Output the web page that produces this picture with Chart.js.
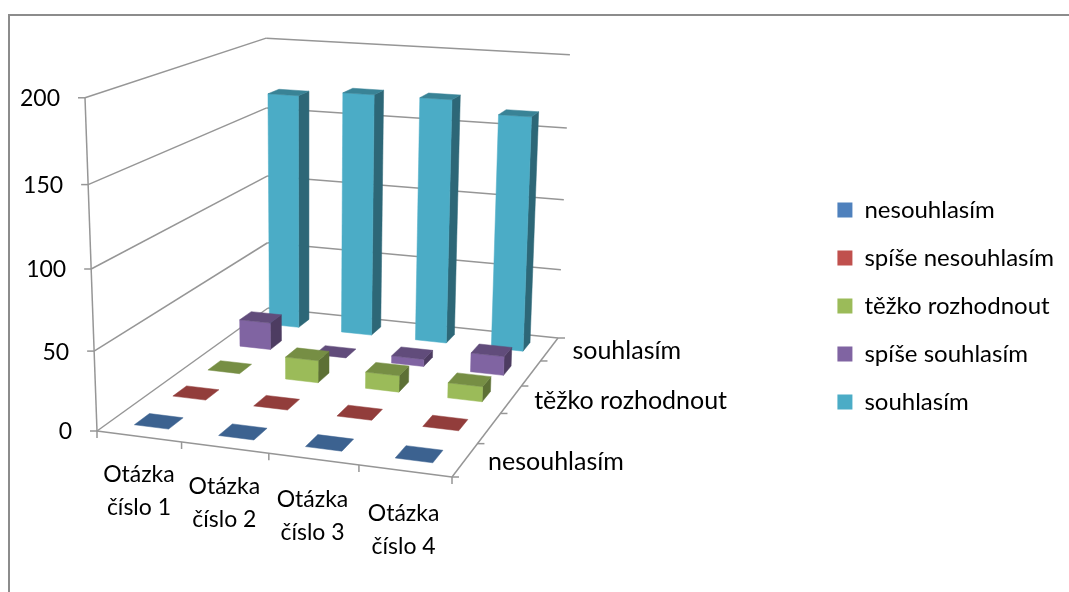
<!DOCTYPE html>
<html lang="cs">
<head>
  <meta charset="UTF-8">
  <title>Otázky</title>
  <script src="https://cdn.jsdelivr.net/npm/chart.js"></script>
  <style>
    html, body { margin: 0; padding: 0; background: #fff; overflow: hidden; }
    #wrap { position: relative; width: 1069px; height: 592px; overflow: hidden; }
    #frame { position: absolute; left: 8px; top: 14px; width: 1200px; height: 800px; border: 2px solid #8c8c8c; }
    canvas { position: absolute; left: 0; top: 0; }
  </style>
</head>
<body>
<div id="wrap">
  <div id="frame"></div>
  <canvas id="chart" width="1069" height="592"></canvas>
</div>

<script>
  const categories = [['Otázka', 'číslo 1'], ['Otázka', 'číslo 2'], ['Otázka', 'číslo 3'], ['Otázka', 'číslo 4']];
  const seriesNames = ['nesouhlasím', 'spíše nesouhlasím', 'těžko rozhodnout', 'spíše souhlasím', 'souhlasím'];
  const nesouhlasim = [0, 0, 0, 0];
  const spiseNesouhlasim = [0, 0, 0, 0];
  const tezkoRozhodnout = [0, 15, 11, 10];
  const spiseSouhlasim = [19, 0, 5, 13];
  const souhlasim = [167, 171, 171, 163];
  const seriesValues = [nesouhlasim, spiseNesouhlasim, tezkoRozhodnout, spiseSouhlasim, souhlasim];
  const seriesColors = ['#4f81bd', '#c0504d', '#9bbb59', '#8064a2', '#4bacc6'];

  // perspective box of the plot: floor corners, one raised corner, vertical vanishing point
  const FLOOR = [[97, 431], [452, 477], [558, 338], [268, 308]];
  const RAISED_CORNER = [85, 97];
  const VANISH = [308, 6290];
  const BAR_WIDTH = 0.41;
  const BAR_DEPTH = 0.38;
  const FONT = 'Lato, sans-serif';
  const LEGEND_FONT_SIZE = 24;
  const DEPTH_FONT_SIZE = 25;
  const TICK_FONT_SIZE = 23;

  function squareToQuad(q) {
    const dx1 = q[1][0] - q[2][0], dx2 = q[3][0] - q[2][0], sx = q[0][0] - q[1][0] + q[2][0] - q[3][0];
    const dy1 = q[1][1] - q[2][1], dy2 = q[3][1] - q[2][1], sy = q[0][1] - q[1][1] + q[2][1] - q[3][1];
    const den = dx1 * dy2 - dx2 * dy1;
    const g = (sx * dy2 - dx2 * sy) / den;
    const h = (dx1 * sy - sx * dy1) / den;
    return {
      a: q[1][0] - q[0][0] + g * q[1][0], b: q[3][0] - q[0][0] + h * q[3][0], c: q[0][0],
      d: q[1][1] - q[0][1] + g * q[1][1], e: q[3][1] - q[0][1] + h * q[3][1], f: q[0][1],
      g, h
    };
  }

  const H = squareToQuad(FLOOR);
  const lift = (RAISED_CORNER[0] - FLOOR[0][0]) / (VANISH[0] - RAISED_CORNER[0]);

  // u: along the questions, v: along the answers, z: height, all 0..1
  function project(u, v, z) {
    const w = H.g * u + H.h * v + 1 + lift * z;
    return [
      (H.a * u + H.b * v + H.c + lift * z * VANISH[0]) / w,
      (H.d * u + H.e * v + H.f + lift * z * VANISH[1]) / w
    ];
  }

  function shade(hex, k) {
    const n = parseInt(hex.slice(1), 16);
    const c = [n >> 16, (n >> 8) & 255, n & 255].map(p => Math.round(p * k));
    return `rgb(${c[0]},${c[1]},${c[2]})`;
  }

  function poly(ctx, pts, color) {
    ctx.beginPath();
    pts.forEach((p, i) => i ? ctx.lineTo(p[0], p[1]) : ctx.moveTo(p[0], p[1]));
    ctx.closePath();
    ctx.fillStyle = color;
    ctx.strokeStyle = color;
    ctx.lineWidth = 0.5;
    ctx.fill();
    ctx.stroke();
  }

  function seg(ctx, a, b) {
    ctx.beginPath();
    ctx.moveTo(a[0], a[1]);
    ctx.lineTo(b[0], b[1]);
    ctx.stroke();
  }

  const box3d = {
    id: 'box3d',
    beforeDatasetsDraw(chart) {
      const ctx = chart.ctx;
      const xs = chart.scales.x, ys = chart.scales.y, ds = chart.scales.depth;
      const uOf = px => (px - xs.left) / xs.width;
      const vOf = i => (ds.getPixelForValue(i) - ds.top) / ds.height;
      const zOf = px => (ys.bottom - px) / ys.height;

      ctx.save();
      ctx.strokeStyle = '#969696';
      ctx.lineWidth = 1.5;

      // gridlines on the left and back walls, vertical axis with its ticks
      ys.ticks.forEach(t => {
        const z = zOf(ys.getPixelForValue(t.value));
        const front = project(0, 0, z), back = project(0, 1, z), right = project(1, 1, z);
        seg(ctx, front, back);
        seg(ctx, back, right);
        seg(ctx, [front[0] - 7, front[1]], front);
      });
      seg(ctx, project(0, 0, 0), project(0, 0, 1));

      // floor outline and ticks
      seg(ctx, project(0, 0, 0), project(1, 0, 0));
      seg(ctx, project(1, 0, 0), project(1, 1, 0));
      for (let i = 0; i <= categories.length; i++) {
        const p = project(i / categories.length, 0, 0);
        seg(ctx, p, [p[0], p[1] + 7]);
      }
      for (let i = 0; i <= seriesNames.length; i++) {
        const p = project(1, i / seriesNames.length, 0);
        seg(ctx, p, [p[0] + 7, p[1]]);
      }

      // boxes, back row first
      for (let s = seriesNames.length - 1; s >= 0; s--) {
        const halfV = BAR_DEPTH / seriesNames.length / 2;
        const v = vOf(s);
        chart.getDatasetMeta(s).data.forEach(bar => {
          const halfU = BAR_WIDTH / categories.length / 2;
          const u = uOf(bar.x), z = zOf(bar.y);
          const color = seriesColors[s];
          const fl = project(u - halfU, v - halfV, 0), fr = project(u + halfU, v - halfV, 0);
          const br = project(u + halfU, v + halfV, 0);
          const tfl = project(u - halfU, v - halfV, z), tfr = project(u + halfU, v - halfV, z);
          const tbr = project(u + halfU, v + halfV, z), tbl = project(u - halfU, v + halfV, z);
          if (z > 0) {
            poly(ctx, [fr, br, tbr, tfr], shade(color, 0.6));
            poly(ctx, [fl, fr, tfr, tfl], color);
          }
          poly(ctx, [tfl, tfr, tbr, tbl], shade(color, 0.76));
        });
      }

      // axis labels
      ctx.fillStyle = '#000';
      ctx.textBaseline = 'middle';
      ctx.font = `${TICK_FONT_SIZE}px ${FONT}`;
      ctx.textAlign = 'right';
      ys.ticks.forEach(t => {
        const p = project(0, 0, zOf(ys.getPixelForValue(t.value)));
        ctx.fillText(t.label, p[0] - 25, p[1] + 1);
      });
      ctx.textAlign = 'center';
      categories.forEach((lines, i) => {
        const p = project(uOf(xs.getPixelForValue(i)), 0, 0);
        lines.forEach((line, k) => ctx.fillText(line, p[0] - i * 0.5, p[1] + 38 + i * 1.4 + k * 33));
      });
      ctx.font = `${DEPTH_FONT_SIZE}px ${FONT}`;
      ctx.textAlign = 'left';
      seriesNames.forEach((name, i) => {
        if (i % 2) return;
        const p = project(1, vOf(i), 0);
        ctx.fillText(name, p[0] + 23, p[1] + 2);
      });
      ctx.restore();
      return false;
    }
  };

  new Chart(document.getElementById('chart'), {
    type: 'bar',
    data: {
      labels: categories,
      datasets: seriesNames.map((name, i) => ({
        label: name,
        data: seriesValues[i],
        backgroundColor: seriesColors[i],
        grouped: false
      }))
    },
    options: {
      responsive: false,
      animation: false,
      layout: { padding: { top: 20, right: 5 } },
      scales: {
        x: { display: false },
        y: { display: false, min: 0, max: 200, ticks: { stepSize: 50 } },
        depth: { type: 'category', axis: 'y', display: false, labels: seriesNames, offset: true }
      },
      plugins: {
        tooltip: { enabled: false },
        legend: {
          position: 'right',
          labels: { boxWidth: 15, boxHeight: 15, padding: 24, color: '#000', font: { family: FONT, size: LEGEND_FONT_SIZE } }
        }
      }
    },
    plugins: [box3d]
  });
</script>
</body>
</html>
